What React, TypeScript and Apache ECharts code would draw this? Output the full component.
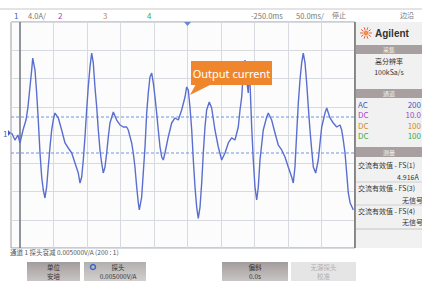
import React, { useEffect, useRef } from "react";
import * as echarts from "echarts";

// time (ms from left graticule line), current (A)
const timeMs = [
  -12.4, -7.5, -3.0, 0, 4.5, 9.0, 11.9, 14.9, 17.5, 19.0, 22.4, 24.9, 27.3, 29.9, 32.4, 34.8, 37.3, 39.8, 42.2, 44.8,
  47.3, 49.7, 52.2, 57.2, 62.2, 67.2, 72.1, 77.2, 82.1, 87.0, 89.6, 92.1, 94.5, 97.0, 99.5, 101.9, 104.5, 107.0, 109.4, 111.9,
  114.5, 116.9, 119.4, 121.9, 124.3, 126.9, 129.4, 131.8, 134.3, 139.3, 144.3, 149.3, 154.2, 159.2, 161.6, 166.7, 169.1, 171.6, 174.2, 176.6,
  178.1, 181.6, 184.0, 186.6, 189.1, 191.5, 194.0, 196.6, 199.0, 201.5, 204.0, 206.4, 209.0, 211.5, 213.9, 216.4, 221.3, 226.4, 231.3, 236.3,
  241.3, 246.3, 248.8, 251.2, 253.7, 256.3, 258.7, 261.2, 263.7, 266.1, 268.7, 271.2, 273.6, 276.1, 278.6, 282.5, 286.1, 291.0, 296.0, 301.0,
  306.0, 310.9, 315.9, 320.9, 325.8, 328.4, 330.9, 333.3, 335.8, 338.3, 340.7, 342.2, 344.0, 345.8, 348.2, 350.7, 353.3, 355.7, 358.2, 363.1,
  368.2, 370.6, 375.6, 380.6, 385.5, 390.6, 395.5, 400.4, 405.5, 407.9, 410.4, 413.0, 415.4, 417.9, 420.4, 422.8, 425.4, 427.9, 430.3, 432.8,
  435.4, 437.8, 441.3, 445.2, 447.8, 450.3, 455.2, 457.8, 462.7, 467.6, 472.7, 477.6, 480.1, 482.5, 485.1, 487.6, 490.0, 492.8, 497.5,
];
const currentA = [
  0.28, -0.71, 0, -1.13, 0.71, 2.12, 3.96, 6.8, 9.2, 10.9, 9.2, 5.95, 2.12, -2.55, -5.95, -7.79, -8.92, -7.36, -4.53, -1.7,
  0.71, 2.12, 3.11, 2.41, 0.71, -1.13, -1.84, -2.55, -3.96, -5.38, -6.8, -5.95, -3.54, -0.28, 3.54, 6.8, 9.63, 11.6, 10.2, 6.8,
  3.96, 0.71, -2.12, -3.96, -5.38, -4.53, -2.55, -0.28, 1.7, 3.26, 2.12, 1.42, 1.13, 1.13, 0.71, -1.13, -2.55, -4.53, -7.36, -9.63,
  -10.6, -8.78, -5.38, -1.7, 3.11, 5.95, 8.21, 8.78, 7.36, 5.38, 3.11, 0.71, -1.7, -3.11, -3.54, -2.55, -0.28, 1.7, 2.41, 2.12,
  3.54, 5.38, 6.8, 6.37, 3.96, 0.71, -3.54, -7.36, -10.2, -11.8, -10.2, -6.8, -2.55, 1.13, 3.54, 4.67, 3.82, 0.71, -1.7, -3.54,
  -2.55, -1.13, -0.42, -0.71, 1.13, 3.54, 5.38, 8.78, 10.6, 7.79, 5.95, 10.2, 5.66, 1.13, -3.54, -7.36, -9.2, -7.36, -3.54, 0.71,
  2.55, 3.11, 2.12, 0.28, -1.42, -2.12, -3.11, -4.53, -5.95, -6.8, -4.53, 0.28, 4.53, 7.79, 10.2, 11.6, 10.2, 7.36, 3.96, 0.71,
  -2.12, -4.53, -5.38, -3.54, -1.13, 1.13, 3.11, 3.82, 2.41, 1.7, 1.13, 1.42, 0.71, -0.71, -2.55, -5.38, -8.21, -9.63, -10.6,
];
const timeRange = [-13.4, 500];
const verticalDivs = [50, 100, 150, 200, 250, 300, 350, 400, 450];
const cursorLevels = [2.55, -2.55];
const channelRows = [
  { cpl: "AC", val: "200", color: "#3f5cc8" },
  { cpl: "DC", val: "10.0", color: "#a246c8" },
  { cpl: "DC", val: "100", color: "#d08a1c" },
  { cpl: "DC", val: "100", color: "#3cab4a" },
];

const CJK = '"Noto Sans CJK SC", "Noto Sans", sans-serif';

function txt(x: number, y: number, text: string, size: number, fill: string, align = "left", extra: any = {}) {
  return {
    type: "text",
    x,
    y,
    z: 20,
    style: { text, fontSize: size, fill, fontFamily: CJK, align, verticalAlign: "middle", ...extra },
  };
}

export default function App() {
  const ref = useRef<HTMLDivElement>(null);
  useEffect(() => {
    const chart = echarts.init(ref.current!, null, { renderer: "svg" });
    const data = timeMs.map((t, i) => [t, currentA[i]]);

    const sunRays: any[] = [];
    for (let k = 0; k < 10; k++) {
      const a = (k * Math.PI) / 5;
      sunRays.push({
        type: "line",
        z: 20,
        shape: { x1: 366 + Math.cos(a) * 3, y1: 33 + Math.sin(a) * 3, x2: 366 + Math.cos(a) * 6, y2: 33 + Math.sin(a) * 6 },
        style: { stroke: "#e8643a", lineWidth: 1 },
      });
    }

    const graphic: any[] = [
      { type: "line", shape: { x1: 0, y1: 9, x2: 422, y2: 9 }, style: { stroke: "#c8c8c8", lineWidth: 1 } },
      txt(14, 15, "1", 8, "#3f5cc8"),
      txt(28, 15, "4.0A/", 7.5, "#777"),
      txt(58, 15, "2", 8, "#a246c8"),
      txt(103, 15, "3", 8, "#d08a1c"),
      txt(147, 15, "4", 8, "#3cab4a"),
      txt(251, 15, "-250.0ms", 7.5, "#777"),
      txt(296, 15, "50.0ms/", 7.5, "#777"),
      txt(332, 15, "停止", 7, "#777"),
      txt(400, 15, "边沿", 7, "#777"),
      txt(3, 133, "1", 8, "#3f5cc8"),
      { type: "polygon", z: 20, shape: { points: [[8, 130], [11, 133], [8, 136]] }, style: { fill: "#3f5cc8" } },
      { type: "polygon", z: 20, shape: { points: [[184, 22], [191, 22], [187.5, 26]] }, style: { fill: "#6a86d0" } },
      { type: "rect", z: 10, shape: { x: 355, y: 22, width: 67, height: 226 }, style: { fill: "#f2f1f1" } },
      { type: "line", z: 11, shape: { x1: 355, y1: 22, x2: 355, y2: 248 }, style: { stroke: "#6c6c6c", lineWidth: 1.5 } },
      { type: "circle", z: 20, shape: { cx: 366, cy: 33, r: 2 }, style: { fill: "#f0a040", stroke: "#e8643a", lineWidth: 0.8 } },
      ...sunRays,
      txt(375, 33, "Agilent", 10, "#333", "left", { fontWeight: "bold", fontFamily: "Liberation Sans, sans-serif" }),
      { type: "rect", z: 12, shape: { x: 356, y: 45, width: 66, height: 9 }, style: { fill: "#a8a0a0" } },
      txt(389, 49.5, "采集", 6, "#f4f4f4", "center"),
      txt(389, 61, "高分辨率", 7, "#333", "center"),
      txt(389, 72, "100kSa/s", 7, "#333", "center"),
      { type: "rect", z: 12, shape: { x: 356, y: 89, width: 66, height: 9 }, style: { fill: "#a8a0a0" } },
      txt(389, 93.5, "通道", 6, "#f4f4f4", "center"),
      ...channelRows.flatMap((r, i) => [
        txt(358, 104 + i * 10.5, r.cpl, 8, r.color),
        txt(421, 104 + i * 10.5, r.val, 8, r.color, "right"),
      ]),
      { type: "rect", z: 12, shape: { x: 356, y: 147, width: 66, height: 10 }, style: { fill: "#a8a0a0" } },
      txt(389, 152, "测量", 6, "#f4f4f4", "center"),
      txt(358, 165, "交流有效值 - FS(1)", 7, "#333"),
      txt(397, 177, "4.916A", 7, "#333"),
      { type: "line", z: 12, shape: { x1: 356, y1: 182, x2: 422, y2: 182 }, style: { stroke: "#d0d0d0", lineWidth: 1 } },
      txt(358, 188, "交流有效值 - FS(3)", 7, "#333"),
      txt(402, 200, "无信号", 7, "#333"),
      { type: "line", z: 12, shape: { x1: 356, y1: 205, x2: 422, y2: 205 }, style: { stroke: "#d0d0d0", lineWidth: 1 } },
      txt(358, 211, "交流有效值 - FS(4)", 7, "#333"),
      txt(402, 222, "无信号", 7, "#333"),
      { type: "line", z: 12, shape: { x1: 356, y1: 229, x2: 422, y2: 229 }, style: { stroke: "#c4c4c4", lineWidth: 1 } },
      txt(10, 252, "通道 1 探头衰减 0.005000V/A (200 : 1)", 6.5, "#555"),
      {
        type: "rect", z: 12, shape: { x: 27, y: 262, width: 53, height: 19 },
        style: { fill: new echarts.graphic.LinearGradient(0, 0, 0, 1, [{ offset: 0, color: "#a39c9c" }, { offset: 1, color: "#c9c5c5" }]) },
      },
      txt(53.5, 267, "单位", 6.5, "#333", "center"),
      txt(53.5, 276, "安培", 6.5, "#333", "center"),
      {
        type: "rect", z: 12, shape: { x: 84, y: 262, width: 62, height: 19 },
        style: { fill: new echarts.graphic.LinearGradient(0, 0, 0, 1, [{ offset: 0, color: "#b4afaf" }, { offset: 1, color: "#d2cfcf" }]) },
      },
      { type: "circle", z: 20, shape: { cx: 93, cy: 267, r: 2.5 }, style: { fill: "none", stroke: "#3a62c8", lineWidth: 1.5 } },
      txt(118, 267, "探头", 6.5, "#333", "center"),
      txt(118, 276, "0.005000V/A", 6.5, "#333", "center"),
      {
        type: "rect", z: 12, shape: { x: 222, y: 262, width: 66, height: 19 },
        style: { fill: new echarts.graphic.LinearGradient(0, 0, 0, 1, [{ offset: 0, color: "#a39c9c" }, { offset: 1, color: "#c9c5c5" }]) },
      },
      txt(255, 267, "偏斜", 6.5, "#333", "center"),
      txt(255, 276, "0.0s", 6.5, "#333", "center"),
      { type: "rect", z: 12, shape: { x: 291, y: 262, width: 65, height: 19 }, style: { fill: "#e6e5e5" } },
      txt(323.5, 267, "无源探头", 6.5, "#b0b0b0", "center"),
      txt(323.5, 276, "校准", 6.5, "#b0b0b0", "center"),
      { type: "rect", z: 30, shape: { x: 191, y: 61, width: 81, height: 24 }, style: { fill: "#f0862c" } },
      { type: "polygon", z: 30, shape: { points: [[196, 84], [212, 84], [190, 95]] }, style: { fill: "#f0862c" } },
      {
        type: "text", z: 31, x: 231.5, y: 73,
        style: { text: "Output current", fontSize: 11, fill: "#ffffff", fontFamily: '"Noto Sans", sans-serif', align: "center", verticalAlign: "middle" },
      },
    ];

    chart.setOption({
      animation: false,
      grid: {
        left: 11, right: 67, top: 22, bottom: 33, show: true,
        borderColor: "#9c9c9c", borderWidth: 1, backgroundColor: "#fcfcfc",
      },
      xAxis: {
        type: "value", min: timeRange[0], max: timeRange[1],
        axisLine: { show: false }, axisTick: { show: false }, axisLabel: { show: false }, splitLine: { show: false },
      },
      yAxis: {
        type: "value", min: -16, max: 16, interval: 4,
        axisLine: { show: false }, axisTick: { show: false }, axisLabel: { show: false },
        splitLine: { lineStyle: { color: "#d7dbe0", width: 1 } },
      },
      series: [
        {
          type: "line",
          data,
          z: 1,
          showSymbol: false,
          silent: true,
          lineStyle: { opacity: 0, width: 0 },
          markLine: {
            silent: true, symbol: "none", label: { show: false }, z: 1,
            data: [
              ...verticalDivs.map((v) => ({ xAxis: v, lineStyle: { color: "#d7dbe0", width: 1, type: "solid", opacity: 1 } })),
              { xAxis: 0, lineStyle: { color: "#6c737c", width: 1.5, type: "solid", opacity: 1 } },
            ],
          },
        },
        ...cursorLevels.map((v) => ({
          type: "line",
          data: timeRange.map((t) => [t, v]),
          z: 2,
          silent: true,
          showSymbol: false,
          lineStyle: { color: "#6f93de", width: 1.2, type: [3, 2] },
        })),
        {
          type: "line",
          data,
          z: 5,
          showSymbol: false,
          lineStyle: { color: "#5a6ecf", width: 1.4 },
        },
      ],
      graphic,
    });
    return () => chart.dispose();
  }, []);
  return <div ref={ref} style={{ position: "fixed", left: 0, top: 0, width: 422, height: 281, background: "#fff" }} />;
}
